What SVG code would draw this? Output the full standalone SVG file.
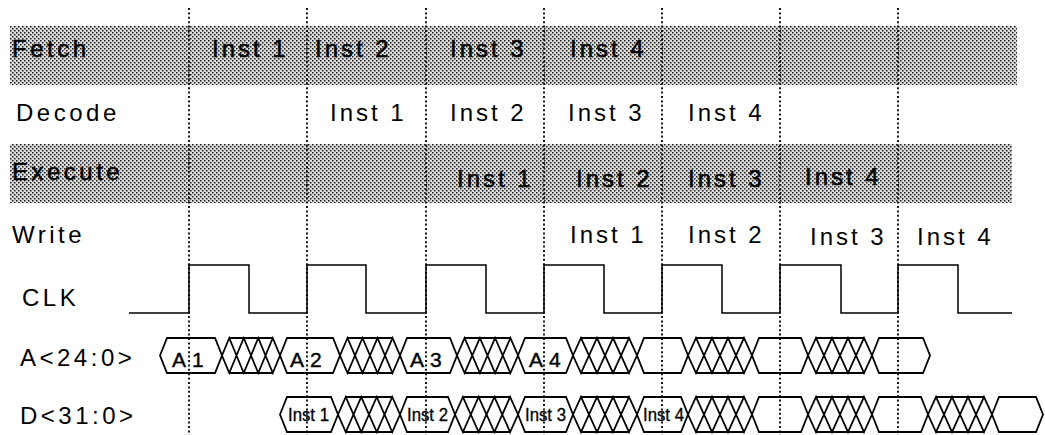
<svg xmlns="http://www.w3.org/2000/svg" width="1045" height="435" viewBox="0 0 1045 435">
  <defs>
    <!-- halftone screen used for the shaded pipeline stages -->
    <pattern id="dither" width="4" height="4" patternUnits="userSpaceOnUse">
      <rect width="4" height="4" fill="#dcdcdc"/>
      <rect x="0" y="0" width="1.5" height="1.5" fill="#1a1a1a"/>
      <rect x="2" y="2" width="1.5" height="1.5" fill="#1a1a1a"/>
    </pattern>
  </defs>
  <style>
    text { font-family: "Liberation Sans", Arial, sans-serif; fill: #000; }
    .lbl { font-size: 24px; letter-spacing: 3.5px; }
    .cell { font-size: 24px; letter-spacing: 3px; }
    .shade { stroke: #000; stroke-width: 0.5px; }
    .busa { font-size: 21px; letter-spacing: 6px; stroke: #000; stroke-width: 0.4px; }
    .busd { font-size: 18px; stroke: #000; stroke-width: 0.3px; }
    .wave { fill: none; stroke: #000; stroke-width: 1.5; stroke-linejoin: miter; }
    .bus { fill: #fff; stroke: #000; stroke-width: 1.8; stroke-linejoin: miter; }
    .xx { fill: #fff; stroke: #000; stroke-width: 1.8; }
    .grid { stroke: #000; stroke-width: 1.8; stroke-dasharray: 2 2.4; }
  </style>

  <!-- shaded stage bands -->
  <g id="bands">
    <rect id="band-fetch" x="10" y="26" width="1007" height="59" fill="url(#dither)"/>
    <rect id="band-execute" x="10" y="144" width="1002" height="59" fill="url(#dither)"/>
  </g>

  <!-- pipeline stage rows -->
  <g id="row-fetch">
    <text class="lbl shade" x="12" y="57">Fetch</text>
    <text class="cell shade" x="212" y="57">Inst 1</text>
    <text class="cell shade" x="315" y="57">Inst 2</text>
    <text class="cell shade" x="450" y="57">Inst 3</text>
    <text class="cell shade" x="570" y="57">Inst 4</text>
  </g>
  <g id="row-decode">
    <text class="lbl" x="16" y="121">Decode</text>
    <text class="cell" x="330" y="121">Inst 1</text>
    <text class="cell" x="450" y="121">Inst 2</text>
    <text class="cell" x="568" y="121">Inst 3</text>
    <text class="cell" x="688" y="121">Inst 4</text>
  </g>
  <g id="row-execute">
    <text class="lbl shade" x="12" y="180">Execute</text>
    <text class="cell shade" x="457" y="187">Inst 1</text>
    <text class="cell shade" x="576" y="187">Inst 2</text>
    <text class="cell shade" x="688" y="187">Inst 3</text>
    <text class="cell shade" x="805" y="185">Inst 4</text>
  </g>
  <g id="row-write">
    <text class="lbl" x="12" y="243">Write</text>
    <text class="cell" x="570" y="243">Inst 1</text>
    <text class="cell" x="688" y="243">Inst 2</text>
    <text class="cell" x="810" y="245">Inst 3</text>
    <text class="cell" x="917" y="245">Inst 4</text>
  </g>

  <!-- clock -->
  <g id="clk">
    <text class="lbl" x="22" y="306">CLK</text>
    <path class="wave" d="M129,313 H189 V265 H249 V313 H307 V265 H366 V313 H426 V265 H486 V313 H544 V265 H604 V313 H662 V265 H722 V313 H780 V265 H841 V313 H898 V265 H958 V313 H1012"/>
  </g>

  <!-- address bus -->
  <g id="bus-a">
    <text class="lbl" x="20" y="366">A&lt;24:0&gt;</text>
    <!-- valid windows -->
    <path class="bus" d="M160,355.5 L167,338 H215 L222,355.5 L215,373 H167 Z"/>
    <path class="bus" d="M280,355.5 L287,338 H333 L340,355.5 L333,373 H287 Z"/>
    <path class="bus" d="M400,355.5 L407,338 H450 L457,355.5 L450,373 H407 Z"/>
    <path class="bus" d="M518,355.5 L525,338 H566 L573,355.5 L566,373 H525 Z"/>
    <path class="bus" d="M637,355.5 L644,338 H681 L688,355.5 L681,373 H644 Z"/>
    <path class="bus" d="M752,355.5 L759,338 H801 L808,355.5 L801,373 H759 Z"/>
    <path class="bus" d="M872,355.5 L879,338 H923 L930,355.5 L923,373 H879 Z"/>
    <!-- don't-care windows -->
    <path class="xx" d="M222,355.5 L229.25,338 L236.5,355.5 L243.75,338 L251,355.5 L258.25,338 L265.5,355.5 L272.75,338 L280,355.5 L272.75,373 L265.5,355.5 L258.25,373 L251,355.5 L243.75,373 L236.5,355.5 L229.25,373 Z M229.25,338 H272.75 M229.25,373 H272.75"/>
    <path class="xx" d="M340,355.5 L347.5,338 L355,355.5 L362.5,338 L370,355.5 L377.5,338 L385,355.5 L392.5,338 L400,355.5 L392.5,373 L385,355.5 L377.5,373 L370,355.5 L362.5,373 L355,355.5 L347.5,373 Z M347.5,338 H392.5 M347.5,373 H392.5"/>
    <path class="xx" d="M457,355.5 L464.6,338 L472.25,355.5 L479.9,338 L487.5,355.5 L495.1,338 L502.75,355.5 L510.4,338 L518,355.5 L510.4,373 L502.75,355.5 L495.1,373 L487.5,355.5 L479.9,373 L472.25,355.5 L464.6,373 Z M464.6,338 H510.4 M464.6,373 H510.4"/>
    <path class="xx" d="M573,355.5 L581,338 L589,355.5 L597,338 L605,355.5 L613,338 L621,355.5 L629,338 L637,355.5 L629,373 L621,355.5 L613,373 L605,355.5 L597,373 L589,355.5 L581,373 Z M581,338 H629 M581,373 H629"/>
    <path class="xx" d="M688,355.5 L696,338 L704,355.5 L712,338 L720,355.5 L728,338 L736,355.5 L744,338 L752,355.5 L744,373 L736,355.5 L728,373 L720,355.5 L712,373 L704,355.5 L696,373 Z M696,338 H744 M696,373 H744"/>
    <path class="xx" d="M808,355.5 L816,338 L824,355.5 L832,338 L840,355.5 L848,338 L856,355.5 L864,338 L872,355.5 L864,373 L856,355.5 L848,373 L840,355.5 L832,373 L824,355.5 L816,373 Z M816,338 H864 M816,373 H864"/>
    <text class="busa" x="172" y="367">A1</text>
    <text class="busa" x="290" y="367">A2</text>
    <text class="busa" x="410" y="367">A3</text>
    <text class="busa" x="529" y="367">A4</text>
  </g>

  <!-- data bus -->
  <g id="bus-d">
    <text class="lbl" x="20" y="424">D&lt;31:0&gt;</text>
    <!-- valid windows -->
    <path class="bus" d="M280,414.5 L287,397 H331 L338,414.5 L331,432 H287 Z"/>
    <path class="bus" d="M400,414.5 L407,397 H448 L455,414.5 L448,432 H407 Z"/>
    <path class="bus" d="M518,414.5 L525,397 H566 L573,414.5 L566,432 H525 Z"/>
    <path class="bus" d="M637,414.5 L644,397 H681 L688,414.5 L681,432 H644 Z"/>
    <path class="bus" d="M752,414.5 L759,397 H801 L808,414.5 L801,432 H759 Z"/>
    <path class="bus" d="M872,414.5 L879,397 H921 L928,414.5 L921,432 H879 Z"/>
    <path class="bus" d="M992,414.5 L999,397 H1036 L1043,414.5 L1036,432 H999 Z"/>
    <!-- don't-care windows -->
    <path class="xx" d="M338,414.5 L345.75,397 L353.5,414.5 L361.25,397 L369,414.5 L376.75,397 L384.5,414.5 L392.25,397 L400,414.5 L392.25,432 L384.5,414.5 L376.75,432 L369,414.5 L361.25,432 L353.5,414.5 L345.75,432 Z M345.75,397 H392.25 M345.75,432 H392.25"/>
    <path class="xx" d="M455,414.5 L462.9,397 L470.75,414.5 L478.6,397 L486.5,414.5 L494.4,397 L502.25,414.5 L510.1,397 L518,414.5 L510.1,432 L502.25,414.5 L494.4,432 L486.5,414.5 L478.6,432 L470.75,414.5 L462.9,432 Z M462.9,397 H510.1 M462.9,432 H510.1"/>
    <path class="xx" d="M573,414.5 L581,397 L589,414.5 L597,397 L605,414.5 L613,397 L621,414.5 L629,397 L637,414.5 L629,432 L621,414.5 L613,432 L605,414.5 L597,432 L589,414.5 L581,432 Z M581,397 H629 M581,432 H629"/>
    <path class="xx" d="M688,414.5 L696,397 L704,414.5 L712,397 L720,414.5 L728,397 L736,414.5 L744,397 L752,414.5 L744,432 L736,414.5 L728,432 L720,414.5 L712,432 L704,414.5 L696,432 Z M696,397 H744 M696,432 H744"/>
    <path class="xx" d="M808,414.5 L816,397 L824,414.5 L832,397 L840,414.5 L848,397 L856,414.5 L864,397 L872,414.5 L864,432 L856,414.5 L848,432 L840,414.5 L832,432 L824,414.5 L816,432 Z M816,397 H864 M816,432 H864"/>
    <path class="xx" d="M928,414.5 L936,397 L944,414.5 L952,397 L960,414.5 L968,397 L976,414.5 L984,397 L992,414.5 L984,432 L976,414.5 L968,432 L960,414.5 L952,432 L944,414.5 L936,432 Z M936,397 H984 M936,432 H984"/>
    <text class="busd" x="288" y="421" textLength="41" lengthAdjust="spacingAndGlyphs">Inst 1</text>
    <text class="busd" x="407" y="421" textLength="41" lengthAdjust="spacingAndGlyphs">Inst 2</text>
    <text class="busd" x="525" y="421" textLength="41" lengthAdjust="spacingAndGlyphs">Inst 3</text>
    <text class="busd" x="643" y="421" textLength="41" lengthAdjust="spacingAndGlyphs">Inst 4</text>
  </g>

  <!-- clock-edge reference lines -->
  <g id="edges">
    <line class="grid" x1="189" y1="8" x2="189" y2="435"/>
    <line class="grid" x1="307" y1="8" x2="307" y2="435"/>
    <line class="grid" x1="426" y1="8" x2="426" y2="435"/>
    <line class="grid" x1="544" y1="8" x2="544" y2="435"/>
    <line class="grid" x1="662" y1="8" x2="662" y2="435"/>
    <line class="grid" x1="780" y1="8" x2="780" y2="435"/>
    <line class="grid" x1="898" y1="8" x2="898" y2="435"/>
  </g>
</svg>
